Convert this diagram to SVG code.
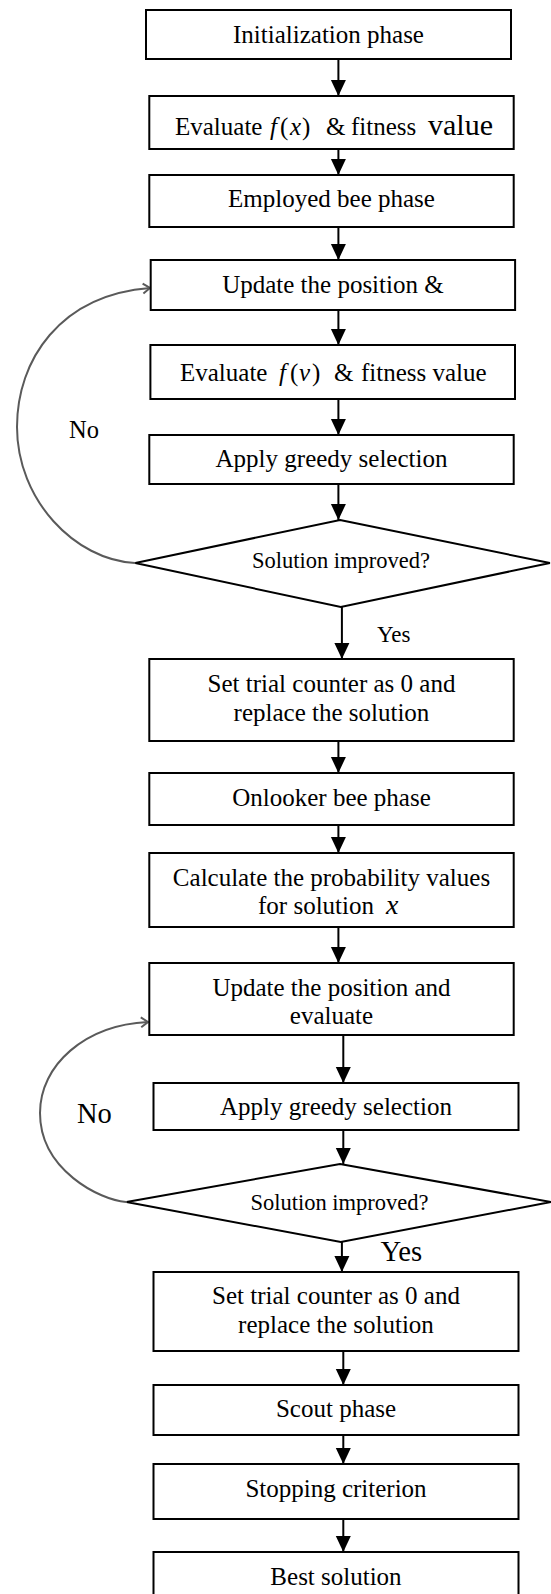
<svg xmlns="http://www.w3.org/2000/svg" width="551" height="1594" viewBox="0 0 551 1594">
<style>
.box{fill:#fff;stroke:#000;stroke-width:2}
.t{font-family:"Liberation Serif","Times New Roman",serif;font-size:25px;fill:#000;text-anchor:middle}
.ts{font-family:"Liberation Serif","Times New Roman",serif;font-size:25px;fill:#000}
.d{font-family:"Liberation Serif","Times New Roman",serif;font-size:22.5px;fill:#000;text-anchor:middle}
.lbl{font-family:"Liberation Serif","Times New Roman",serif;fill:#000}
.a{stroke:#000;stroke-width:2;fill:none;marker-end:url(#ah)}
.loop{stroke:#5a5a5a;stroke-width:2;fill:none;marker-end:url(#oh)}
</style>
<defs>
<marker id="ah" markerUnits="userSpaceOnUse" markerWidth="16" markerHeight="16" refX="16" refY="7.5" orient="auto" viewBox="0 0 16 15">
<path d="M0,0 L16,7.5 L0,15 Z" fill="#000"/>
</marker>
<marker id="oh" markerUnits="userSpaceOnUse" markerWidth="12" markerHeight="14" refX="8" refY="6" orient="auto" viewBox="0 0 12 12">
<path d="M1,1 L8,6 L1,11" fill="none" stroke="#5a5a5a" stroke-width="2"/>
</marker>
</defs>

<g id="connectors">
<line class="a" x1="338.4" y1="59" x2="338.4" y2="96"/>
<line class="a" x1="338.4" y1="149" x2="338.4" y2="175"/>
<line class="a" x1="338.4" y1="227" x2="338.4" y2="260"/>
<line class="a" x1="338.4" y1="310" x2="338.4" y2="345"/>
<line class="a" x1="338.4" y1="399" x2="338.4" y2="435"/>
<line class="a" x1="338.4" y1="484" x2="338.4" y2="520"/>
<line class="a" x1="341.9" y1="607" x2="341.9" y2="659"/>
<line class="a" x1="338.4" y1="741" x2="338.4" y2="773"/>
<line class="a" x1="338.4" y1="825" x2="338.4" y2="853"/>
<line class="a" x1="338.4" y1="927" x2="338.4" y2="963"/>
<line class="a" x1="343.3" y1="1035" x2="343.3" y2="1083"/>
<line class="a" x1="343.3" y1="1130" x2="343.3" y2="1164"/>
<line class="a" x1="341.9" y1="1242" x2="341.9" y2="1272"/>
<line class="a" x1="343.3" y1="1351" x2="343.3" y2="1385"/>
<line class="a" x1="343.3" y1="1435" x2="343.3" y2="1464"/>
<line class="a" x1="343.3" y1="1519" x2="343.3" y2="1552"/>
<path class="loop" d="M135,563 C75,560 17,500 17,427 C17,360 60,295 150,288"/>
<path class="loop" d="M126,1202 C100,1200 40,1170 40,1113 C40,1065 85,1025 148,1022"/>
<text class="lbl" x="69" y="438" font-size="24.5">No</text>
<text class="lbl" x="77" y="1123" font-size="28.5">No</text>
<text class="lbl" x="377" y="642" font-size="23">Yes</text>
<text class="lbl" x="380.5" y="1261" font-size="28.7">Yes</text>
</g>

<g id="n1"><rect class="box" x="146" y="10" width="365" height="49"/><text class="t" x="328.5" y="43">Initialization phase</text></g>
<g id="n2"><rect class="box" x="149.3" y="96" width="364.4" height="53"/>
<text class="ts" y="135"><tspan x="175">Evaluate</tspan><tspan x="270" font-style="italic">f</tspan><tspan x="280">(</tspan><tspan x="290" font-style="italic">x</tspan><tspan x="302">)</tspan><tspan x="326">&amp;</tspan><tspan x="351">fitness</tspan><tspan x="428" font-size="30">value</tspan></text></g>
<g id="n3"><rect class="box" x="149.3" y="175" width="364.4" height="52"/><text class="t" x="331.5" y="207">Employed bee phase</text></g>
<g id="n4"><rect class="box" x="150.7" y="260" width="364.4" height="50"/><text class="t" x="332.9" y="293">Update the position &amp;</text></g>
<g id="n5"><rect class="box" x="150.4" y="345" width="364.6" height="54"/>
<text class="ts" y="381"><tspan x="180">Evaluate</tspan><tspan x="279" font-style="italic">f</tspan><tspan x="290">(</tspan><tspan x="299" font-style="italic">v</tspan><tspan x="312">)</tspan><tspan x="334">&amp;</tspan><tspan x="361">fitness value</tspan></text></g>
<g id="n6"><rect class="box" x="149.3" y="435" width="364.4" height="49"/><text class="t" x="331.5" y="467">Apply greedy selection</text></g>
<g id="n7"><polygon class="box" points="340,520 549.9,563 340.8,607 135.3,563"/><text class="d" x="341" y="568">Solution improved?</text></g>
<g id="n8"><rect class="box" x="149.3" y="659" width="364.4" height="82"/><text class="t" x="331.5" y="692">Set trial counter as 0 and</text><text class="t" x="331.5" y="721">replace the solution</text></g>
<g id="n9"><rect class="box" x="149.3" y="773" width="364.4" height="52"/><text class="t" x="331.5" y="806">Onlooker bee phase</text></g>
<g id="n10"><rect class="box" x="149.3" y="853" width="364.4" height="74"/><text class="t" x="331.5" y="886">Calculate the probability values</text>
<text class="ts" y="914"><tspan x="258">for solution</tspan><tspan x="386" font-style="italic" font-size="28">x</tspan></text></g>
<g id="n11"><rect class="box" x="149.3" y="963" width="364.4" height="72"/><text class="t" x="331.5" y="996">Update the position and</text><text class="t" x="331.5" y="1024">evaluate</text></g>
<g id="n12"><rect class="box" x="153.5" y="1083" width="365" height="47"/><text class="t" x="336" y="1115">Apply greedy selection</text></g>
<g id="n13"><polygon class="box" points="340,1164 551,1202 340.8,1242 126.5,1202"/><text class="d" x="339.5" y="1210">Solution improved?</text></g>
<g id="n14"><rect class="box" x="153.5" y="1272" width="365" height="79"/><text class="t" x="336" y="1304">Set trial counter as 0 and</text><text class="t" x="336" y="1333">replace the solution</text></g>
<g id="n15"><rect class="box" x="153.5" y="1385" width="365" height="50"/><text class="t" x="336" y="1417">Scout phase</text></g>
<g id="n16"><rect class="box" x="153.5" y="1464" width="365" height="55"/><text class="t" x="336" y="1497">Stopping criterion</text></g>
<g id="n17"><rect class="box" x="153.5" y="1552" width="365" height="60"/><text class="t" x="336" y="1585">Best solution</text></g>
</svg>
